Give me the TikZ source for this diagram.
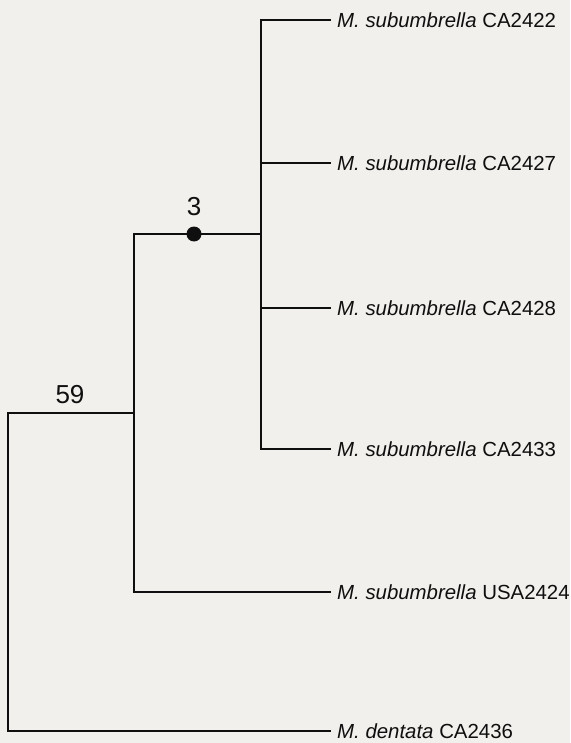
\documentclass[tikz,border=0pt]{standalone}
\usepackage{fontspec}
\setmainfont{Liberation Sans}
\definecolor{bgcol}{RGB}{242,240,236}
\definecolor{inkcol}{RGB}{15,15,15}
\begin{document}
\begin{tikzpicture}[x=1pt,y=-1pt,
  branch/.style={draw=inkcol, line width=1.9pt, line cap=rect},
  leaf/.style={anchor=west, inner xsep=7pt, inner ysep=0pt, text=inkcol, font=\fontsize{20.4}{24}\selectfont},
  support/.style={inner sep=0pt, text=inkcol, font=\fontsize{26}{30}\selectfont},
  nodedot/.style={circle, fill=inkcol, inner sep=0pt, minimum size=15pt}]
\fill[bgcol] (0,0) rectangle (570,743);
\useasboundingbox (0,0) rectangle (570,743);
% internal nodes
\coordinate (root) at (8,413);
\coordinate (c59) at (134,413);
\coordinate (c3) at (261,234);
% leaves
\node[leaf] (l1) at (330,20) {\textit{M. subumbrella} CA2422};
\node[leaf] (l2) at (330,163) {\textit{M. subumbrella} CA2427};
\node[leaf] (l3) at (330,308) {\textit{M. subumbrella} CA2428};
\node[leaf] (l4) at (330,449) {\textit{M. subumbrella} CA2433};
\node[leaf] (l5) at (330,592) {\textit{M. subumbrella} USA2424};
\node[leaf] (l6) at (330,731) {\textit{M. dentata} CA2436};
% inner clade
\draw[branch] (l1.west) -- (l1.west -| c3) -- (l4.west -| c3) -- (l4.west);
\draw[branch] (l2.west -| c3) -- (l2.west);
\draw[branch] (l3.west -| c3) -- (l3.west);
% middle clade
\draw[branch] (c3) -- (c3 -| c59) -- (l5.west -| c59) -- (l5.west);
% root
\draw[branch] (c59) -- (root) -- (l6.west -| root) -- (l6.west);
% dot and support values
\node[nodedot] (dot) at (194,234) {};
\node[support] (s3) at (194,207) {3};
\node[support] (s59) at (70,395) {59};
\end{tikzpicture}
\end{document}
